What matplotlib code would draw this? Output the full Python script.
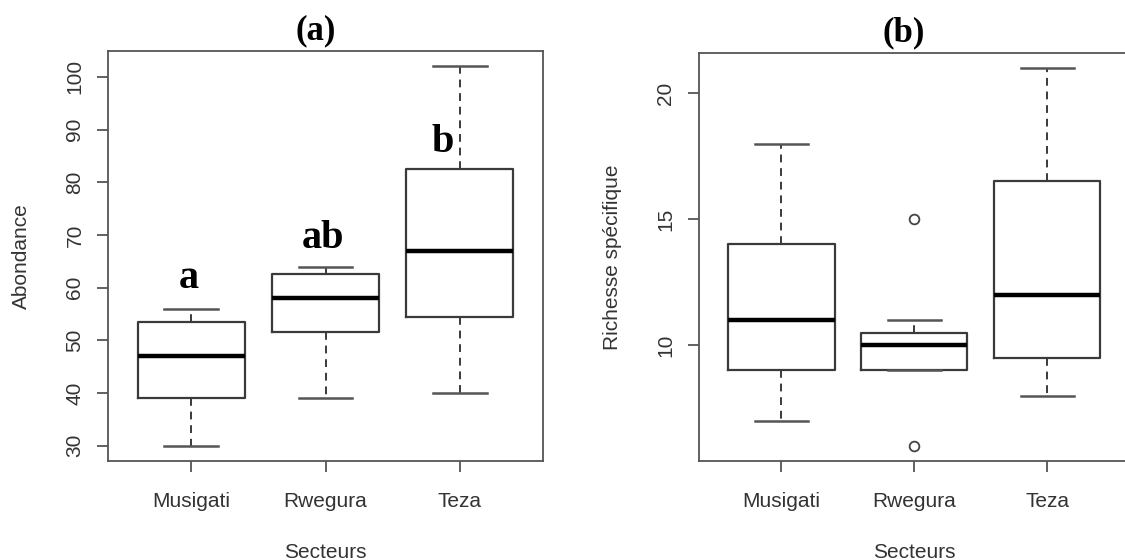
import matplotlib
matplotlib.use("Agg")
import matplotlib.pyplot as plt

# Boxplot summaries per sector
sectors = ["Musigati", "Rwegura", "Teza"]

abond_whislo = [30, 39, 40]
abond_q1 = [39, 51.5, 54.5]
abond_med = [47, 58, 67]
abond_q3 = [53.5, 62.5, 82.5]
abond_whishi = [56, 64, 102]
abond_letters = ["a", "ab", "b"]

rich_whislo = [7, 9, 8]
rich_q1 = [9, 9, 9.5]
rich_med = [11, 10, 12]
rich_q3 = [14, 10.5, 16.5]
rich_whishi = [18, 11, 21]
rich_fliers = [[], [15, 6], []]

# where the significance letters sit (x, y in data units)
letter_x = [0.98, 1.98, 2.87]
letter_y = [61.7, 69.3, 87.6]

plt.rcParams["font.family"] = ["Liberation Sans", "DejaVu Sans"]
TXT = "#333333"
LINE = "#3a3a3a"


def make_stats(lo, q1, med, q3, hi, fliers=None):
    out = []
    for i in range(len(med)):
        out.append({"whislo": lo[i], "q1": q1[i], "med": med[i], "q3": q3[i],
                    "whishi": hi[i],
                    "fliers": (fliers[i] if fliers else [])})
    return out


def draw_box(ax, stats, ylabel):
    ax.bxp(stats, positions=[1, 2, 3], widths=0.8, showfliers=True,
           boxprops=dict(color=LINE, linewidth=1.6),
           medianprops=dict(color="black", linewidth=3.2, solid_capstyle="butt"),
           whiskerprops=dict(color=LINE, linewidth=1.4, linestyle=(0, (4, 3))),
           capprops=dict(color="#555555", linewidth=1.8),
           capwidths=0.4,
           flierprops=dict(marker="o", markersize=7, markerfacecolor="none",
                           markeredgecolor="#444444", markeredgewidth=1.3))
    vals = [s["whislo"] for s in stats] + [s["whishi"] for s in stats]
    for s in stats:
        vals += list(s["fliers"])
    lo, hi = min(vals), max(vals)
    pad = 0.04 * (hi - lo)
    ax.set_ylim(lo - pad, hi + pad)
    ax.set_xlim(0.38, 3.62)
    ax.set_xticks([1, 2, 3])
    ax.set_xticklabels(sectors)
    for sp in ax.spines.values():
        sp.set_color("#555555")
        sp.set_linewidth(1.3)
    ax.tick_params(axis="both", colors="#555555", labelcolor=TXT,
                   labelsize=15, length=8, width=1.3)
    ax.tick_params(axis="x", pad=14)
    ax.tick_params(axis="y", pad=9)
    ax.set_xlabel("Secteurs", fontsize=15, color=TXT)
    ax.xaxis.set_label_coords(0.5, -0.2)
    ax.set_ylabel(ylabel, fontsize=15, color=TXT)
    ax.yaxis.set_label_coords(-0.2, 0.5)
    ax.yaxis.label.set_va("center")


fig = plt.figure(figsize=(11.25, 5.6), dpi=100)
ax1 = fig.add_axes([0.096, 0.1768, 0.3867, 0.732])
ax2 = fig.add_axes([0.6213, 0.1768, 0.3828, 0.7286])

stats_a = make_stats(abond_whislo, abond_q1, abond_med, abond_q3, abond_whishi)
draw_box(ax1, stats_a, "Abondance")
ax1.set_yticks([30, 40, 50, 60, 70, 80, 90, 100])
for lab in ax1.get_yticklabels():
    lab.set_rotation(90)
    lab.set_va("center")

for x, y, t in zip(letter_x, letter_y, abond_letters):
    ax1.text(x, y, t, ha="center", va="center", fontsize=29,
             fontweight="bold", family="Liberation Serif", color="black")

stats_b = make_stats(rich_whislo, rich_q1, rich_med, rich_q3, rich_whishi, rich_fliers)
draw_box(ax2, stats_b, "Richesse spécifique")
ax2.set_yticks([10, 15, 20])
for lab in ax2.get_yticklabels():
    lab.set_rotation(90)
    lab.set_va("center")

fig.text(316 / 1125, 1 - 31 / 560, "(a)", ha="center", va="center",
         fontsize=25, fontweight="bold", family="Liberation Serif")
fig.text(904 / 1125, 1 - 33 / 560, "(b)", ha="center", va="center",
         fontsize=25, fontweight="bold", family="Liberation Serif")

fig.savefig("out.png", dpi=100, facecolor="white")
